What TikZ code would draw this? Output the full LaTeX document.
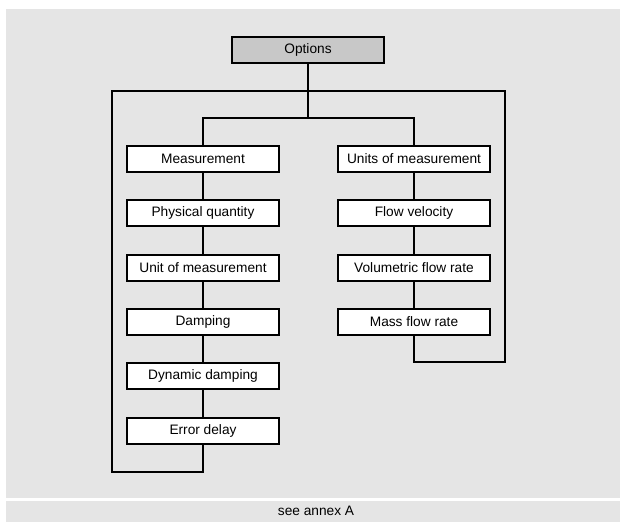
\documentclass[tikz,border=0pt]{standalone}
\usepackage{fontspec}
\setmainfont{Liberation Sans}
\usepackage{tikz}
\definecolor{panelgray}{HTML}{E5E5E5}
\definecolor{headgray}{HTML}{C8C8C8}

\begin{document}
\begin{tikzpicture}[x=1pt,y=-1pt,line width=2pt,
  txt/.style={font=\fontsize{13.7}{16}\selectfont},
  optbox/.style={txt,draw,fill=white,rectangle,minimum width=152pt,minimum height=26pt,inner sep=0pt},
  headbox/.style={optbox,fill=headgray}]
\useasboundingbox (0,0) rectangle (620,522);
\fill[panelgray] (6,9) rectangle (620,498);
\fill[panelgray] (6,501) rectangle (620,522);
\node[txt] (annex) at (316,511) {see annex A};

\node[headbox] (opt) at (308,50) {Options};
\foreach \n/\y/\1 in %
{1/159/Measurement,2/213/Physical quantity,3/268/Unit of measurement,
 4/322/Damping,5/376/Dynamic damping,6/431/Error delay} {
   \node[optbox] (m\n) at (203,\y) {\1};
}
\foreach \n/\y/\1 in %
{1/159/Units of measurement,2/213/Flow velocity,3/268/Volumetric flow rate,
 4/322/Mass flow rate} {
   \node[optbox] (u\n) at (414,\y) {\1};
}

\coordinate (split) at (308,118);
\coordinate (tl) at (112,91);
\coordinate (tr) at (505,91);
\coordinate (bl) at (112,472);
\coordinate (br) at (505,362);

\draw (opt) -- (split);
\draw (m1) |- (split) -| (u1);
\draw (m1) -- (m2) -- (m3) -- (m4) -- (m5) -- (m6);
\draw (u1) -- (u2) -- (u3) -- (u4);
% return loops
\draw (m6) -- (m6 |- bl) -- (bl) -- (tl) -- (tr) -- (br) -- (u4 |- br) -- (u4);
\end{tikzpicture}
\end{document}
